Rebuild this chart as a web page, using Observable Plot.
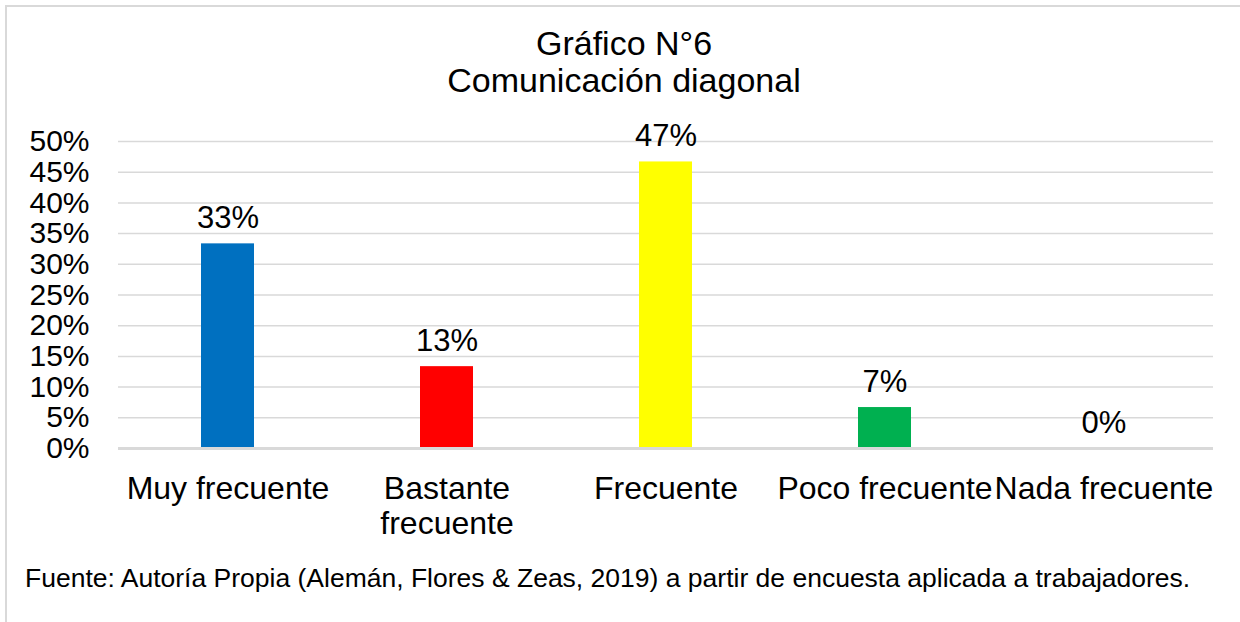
<!DOCTYPE html>
<html>
<head>
<meta charset="utf-8">
<script src="https://cdn.jsdelivr.net/npm/d3@7"></script>
<script src="https://cdn.jsdelivr.net/npm/@observablehq/plot@0.6"></script>
<style>
  html, body { margin: 0; padding: 0; background: #fff; }
  body { width: 1240px; height: 622px; overflow: hidden; position: relative; font-family: "Liberation Sans", Arial, sans-serif; }
  #frame { position: absolute; left: 5px; top: 5px; width: 1260px; height: 640px; border: 2px solid #d9d9d9; box-sizing: border-box; }
  #title { position: absolute; left: 0; top: 25px; width: 1248px; text-align: center; font-size: 34px; line-height: 37px; color: #000; }
  #chart { position: absolute; left: 0; top: 0; }
  #caption { position: absolute; left: 25px; top: 562px; font-size: 26.5px; line-height: 32px; color: #000; white-space: nowrap; }
</style>
</head>
<body>
<div id="frame"></div>
<div id="chart"></div>
<div id="title">Gráfico N°6<br>Comunicación diagonal</div>
<div id="caption">Fuente: Autoría Propia (Alemán, Flores &amp; Zeas, 2019) a partir de encuesta aplicada a trabajadores.</div>
<script>
const categories = ["Muy frecuente", "Bastante frecuente", "Frecuente", "Poco frecuente", "Nada frecuente"];
const tickLabels = ["Muy frecuente", "Bastante\nfrecuente", "Frecuente", "Poco frecuente", "Nada frecuente"];
const values = [0.3333, 0.1333, 0.4667, 0.0667, 0];
const valueLabels = ["33%", "13%", "47%", "7%", "0%"];
const colors = ["#0070C0", "#FF0000", "#FFFF00", "#00B050", "#A5A5A5"];
const yTicks = [0, 0.05, 0.10, 0.15, 0.20, 0.25, 0.30, 0.35, 0.40, 0.45, 0.50];

const data = categories.map((c, i) => ({cat: c, value: values[i], label: valueLabels[i], color: colors[i]}));
const labelOf = new Map(categories.map((c, i) => [c, tickLabels[i]]));

const chart = Plot.plot({
  width: 1240,
  height: 622,
  marginLeft: 118,
  marginRight: 27,
  marginTop: 141,
  marginBottom: 174,
  style: {fontFamily: "'Liberation Sans', Arial, sans-serif", color: "#000", background: "transparent"},
  x: {domain: categories, paddingInner: 0.76, paddingOuter: 0.38, align: 0.5},
  y: {domain: [0, 0.5]},
  marks: [
    Plot.ruleY(yTicks.slice(1), {stroke: "#d9d9d9", strokeWidth: 1.5, strokeOpacity: 1}),
    Plot.barY(data, {x: "cat", y: "value", fill: "color"}),
    Plot.ruleY([0], {stroke: "#d9d9d9", strokeWidth: 3, strokeOpacity: 1}),
    Plot.text(data, {x: "cat", y: "value", text: "label", lineAnchor: "bottom", dy: -16, fontSize: 31, fill: "#000"}),
    Plot.axisY({ticks: yTicks, tickFormat: d3.format(".0%"), tickSize: 0, tickPadding: 29, fontSize: 30, label: null, fill: "#000"}),
    Plot.axisX({tickFormat: d => labelOf.get(d), tickSize: 0, tickPadding: 25, fontSize: 32, lineHeight: 1.1, label: null, fill: "#000"})
  ]
});
document.getElementById("chart").appendChild(chart);
</script>
</body>
</html>
